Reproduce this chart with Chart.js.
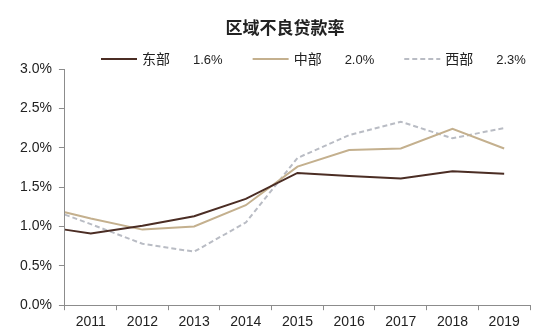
<!DOCTYPE html>
<html lang="zh">
<head>
    <meta charset="UTF-8">
    <title>区域不良贷款率</title>
    <script src="https://cdn.jsdelivr.net/npm/chart.js@4"></script>
    <style>
        body {
            margin: 0;
            background: #fff;
        }
    </style>
</head>
<body>
    <canvas id="nplChart" width="546" height="336"></canvas>
    <script>
        const chartTitle = '区域不良贷款率';
        const regions = ['东部', '中部', '西部'];
        const latestLabels = ['1.6%', '2.0%', '2.3%'];
        const years = [2011, 2012, 2013, 2014, 2015, 2016, 2017, 2018, 2019];

        // first point sits on the left edge of the axis, the rest on each year
        const xPoints = [2010.5, 2011, 2012, 2013, 2014, 2015, 2016, 2017, 2018, 2019];
        const eastRate = [0.96, 0.91, 1.01, 1.13, 1.35, 1.68, 1.64, 1.61, 1.70, 1.67];
        const centralRate = [1.18, 1.10, 0.96, 1.00, 1.27, 1.76, 1.97, 1.99, 2.24, 1.99];
        const westRate = [1.15, 1.03, 0.78, 0.68, 1.05, 1.87, 2.16, 2.33, 2.12, 2.25];

        const yTicks = [0, 0.5, 1, 1.5, 2, 2.5, 3];

        const latin = '"Liberation Sans", Arial, "Noto Sans CJK SC", sans-serif';
        const axisGray = '#8c8c8c';

        const toPoints = vals => vals.map((v, i) => ({ x: xPoints[i], y: v }));

        const seriesStyle = [
            { color: '#4b2d24', dash: [] },
            { color: '#c4b08e', dash: [] },
            { color: '#b9bcc4', dash: [5, 3] }
        ];

        // title and legend row drawn above the plot
        const headerPlugin = {
            id: 'header',
            afterDraw(chart) {
                const ctx = chart.ctx;
                ctx.save();
                ctx.fillStyle = '#222';
                ctx.textBaseline = 'middle';
                ctx.textAlign = 'center';
                ctx.font = 'bold 17px ' + latin;
                ctx.fillText(chartTitle, 285, 29);

                ctx.textAlign = 'left';
                let x = 101;
                const y = 60;
                chart.data.datasets.forEach((ds, i) => {
                    ctx.strokeStyle = ds.borderColor;
                    ctx.lineWidth = 2;
                    ctx.setLineDash(ds.borderDash || []);
                    ctx.beginPath();
                    ctx.moveTo(x, y - 1);
                    ctx.lineTo(x + 36, y - 1);
                    ctx.stroke();
                    ctx.setLineDash([]);
                    x += 41;
                    ctx.font = '14px ' + latin;
                    ctx.fillText(ds.label, x, y);
                    x += ctx.measureText(ds.label).width + 23;
                    ctx.font = '13px ' + latin;
                    ctx.fillText(latestLabels[i], x, y);
                    x += ctx.measureText(latestLabels[i]).width + 30;
                });
                ctx.restore();
            }
        };

        const datasets = [eastRate, centralRate, westRate].map((vals, i) => ({
            label: regions[i],
            data: toPoints(vals),
            borderColor: seriesStyle[i].color,
            borderDash: seriesStyle[i].dash,
            borderWidth: 2,
            pointRadius: 0,
            tension: 0,
            fill: false
        }));

        new Chart(document.getElementById('nplChart'), {
            type: 'line',
            data: { datasets },
            options: {
                responsive: false,
                animation: false,
                layout: { padding: { top: 69, left: 13, right: 16, bottom: 1 } },
                plugins: {
                    legend: { display: false },
                    title: { display: false },
                    tooltip: { enabled: false }
                },
                scales: {
                    x: {
                        type: 'linear',
                        min: years[0] - 0.5,
                        max: years[years.length - 1] + 0.5,
                        afterBuildTicks(scale) {
                            const t = [];
                            years.forEach(yr => {
                                t.push({ value: yr - 0.5 });
                                t.push({ value: yr });
                            });
                            t.push({ value: years[years.length - 1] + 0.5 });
                            scale.ticks = t;
                        },
                        grid: {
                            drawOnChartArea: false,
                            tickLength: 5,
                            color: c => (c.tick && Number.isInteger(c.tick.value)) ? 'rgba(0,0,0,0)' : axisGray
                        },
                        border: { color: axisGray, width: 1 },
                        ticks: {
                            autoSkip: false,
                            maxRotation: 0,
                            padding: 4,
                            color: '#222',
                            font: { family: latin, size: 14 },
                            callback: v => Number.isInteger(v) ? String(v) : ''
                        }
                    },
                    y: {
                        min: 0,
                        max: 3,
                        afterBuildTicks(scale) {
                            scale.ticks = yTicks.map(v => ({ value: v }));
                        },
                        grid: {
                            drawOnChartArea: false,
                            tickLength: 6,
                            color: axisGray
                        },
                        border: { color: axisGray, width: 1 },
                        ticks: {
                            padding: 7,
                            color: '#222',
                            font: { family: latin, size: 14 },
                            callback: v => v.toFixed(1) + '%'
                        }
                    }
                }
            },
            plugins: [headerPlugin]
        });
    </script>
</body>
</html>
